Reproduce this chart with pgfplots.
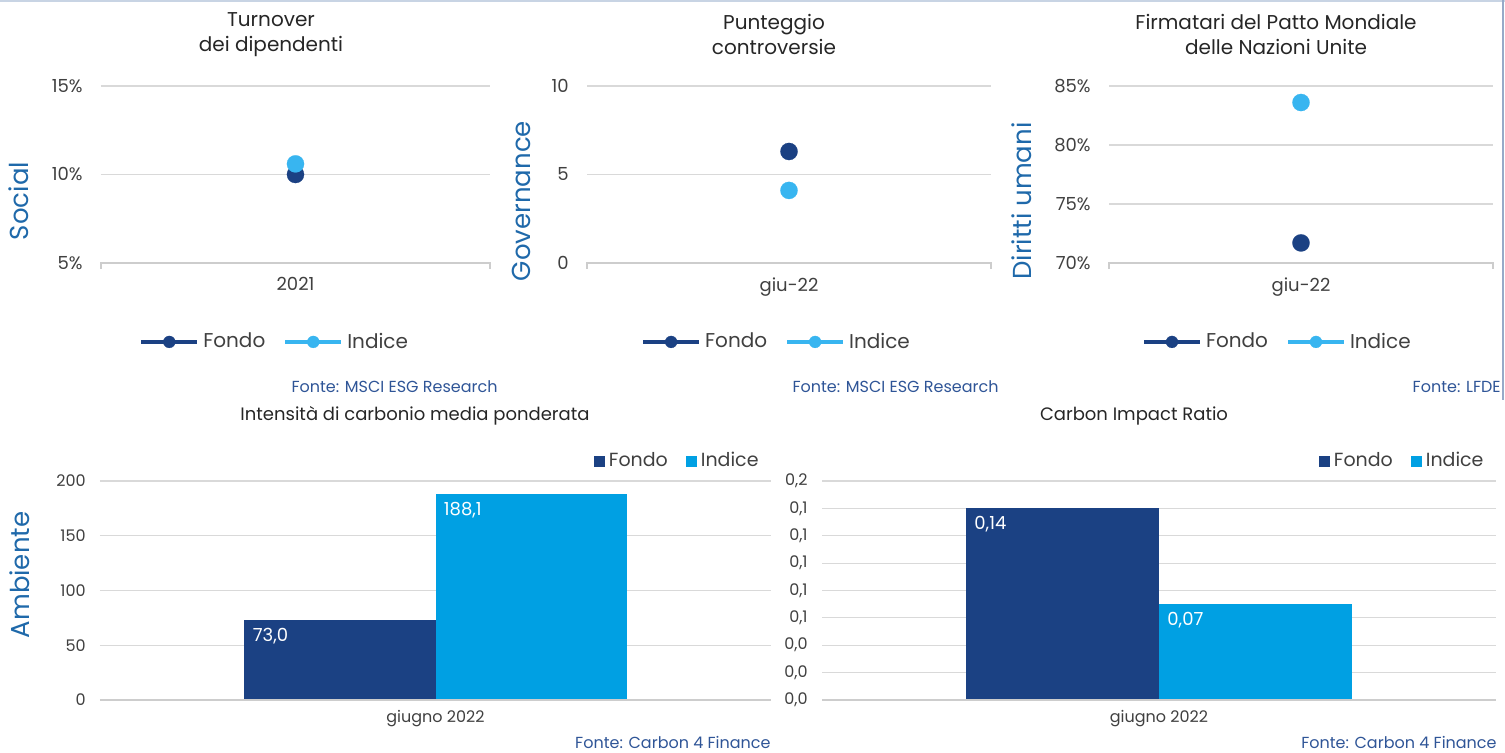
\documentclass[border=0pt]{standalone}
\usepackage{fontspec}
\setmainfont{Poppins}
\usepackage{pgfplots}
\pgfplotsset{compat=1.18}
\definecolor{fondo}{RGB}{27,65,131}
\definecolor{indicedot}{RGB}{56,181,240}
\definecolor{indicebar}{RGB}{0,160,227}
\definecolor{ylab}{RGB}{31,105,170}
\definecolor{src}{RGB}{47,85,151}
\definecolor{ticktxt}{RGB}{64,64,64}
\definecolor{gridc}{RGB}{217,217,217}
\definecolor{axisc}{RGB}{205,205,205}
\definecolor{framec}{RGB}{150,170,200}
\definecolor{toplinec}{RGB}{200,212,228}

\pgfplotsset{
  common/.style={
    scale only axis, clip=false,
    xmin=0, xmax=2, xtick={1},
    axis line style={draw=none},
    major tick length=0pt,
    ymajorgrids, grid style={gridc, line width=0.6pt},
    legend style={draw=none, fill=none, text=ticktxt, legend columns=2, inner sep=0pt,
      /tikz/every even column/.append style={column sep=7pt}},
  },
  topstyle/.style={
    common, height=88.5pt,
    tick label style={font=\fontsize{9}{10}\selectfont, text=ticktxt},
    yticklabel style={anchor=east, inner sep=0pt, xshift=-9pt},
    xticklabel style={anchor=north, inner sep=0pt, yshift=-7pt},
    legend style={font=\fontsize{10}{12}\selectfont, anchor=center},
    legend image code/.code={\draw[#1, line width=2pt, mark repeat=2, mark phase=2] plot coordinates {(0pt,0pt) (14pt,0pt) (28pt,0pt)};},
  },
  dot/.style={color=#1, only marks, mark=*, mark size=4.3pt, mark options={draw=#1, fill=#1, line width=0.1pt}},
  limg/.style={color=#1, mark=*, mark size=3pt, mark options={draw=#1, fill=#1, line width=0.1pt}},
  botstyle/.style={
    common, height=109.5pt, ymin=0, ybar,
    tick label style={font=\fontsize{8}{9}\selectfont, text=ticktxt},
    yticklabel style={anchor=east, inner sep=0pt, xshift=-7pt},
    xticklabel style={anchor=north, inner sep=0pt, yshift=-5pt},
    legend style={font=\fontsize{9.5}{11}\selectfont, anchor=east, at={(axis description cs:0.988,1.091)}},
    point meta=explicit symbolic,
    nodes near coords,
    every node near coord/.append style={font=\fontsize{9}{10}\selectfont, text=white, anchor=north west, inner sep=0pt},
  },
  sq/.style={legend image code/.code={\fill[#1] (0pt,-2.75pt) rectangle (5.5pt,2.75pt);}},
}

\begin{document}
\begin{tikzpicture}
\path[use as bounding box] (0,0) rectangle (752.5pt,376.5pt);
\draw[toplinec, line width=1pt] (0,376pt) -- (752.5pt,376pt);
\draw[framec, line width=1pt] (751.5pt,376.5pt) -- (751.5pt,176.5pt);

% ---------- Panel 1 ----------
\begin{axis}[topstyle, at={(50.5pt,245pt)}, anchor=south west, width=194.5pt,
  ymin=5, ymax=15, ytick={5,10,15}, yticklabels={5\%,10\%,15\%},
  xticklabels={2021},
  legend style={at={(axis description cs:0.449,-0.446)}}]
\addlegendimage{limg=fondo}\addlegendentry{Fondo}
\addlegendimage{limg=indicedot}\addlegendentry{Indice}
\addplot[dot=fondo] coordinates {(1,10.0)};
\addplot[dot=indicedot] coordinates {(1,10.6)};
\draw[axisc, line width=1pt] ([yshift=-3pt]rel axis cs:0,0) -- (rel axis cs:0,0) -- (rel axis cs:1,0) -- ([yshift=-3pt]rel axis cs:1,0);
\end{axis}

% ---------- Panel 2 ----------
\begin{axis}[topstyle, at={(293.5pt,245pt)}, anchor=south west, width=202pt,
  ymin=0, ymax=10, ytick={0,5,10}, yticklabels={0,5,10},
  xticklabels={giu-22},
  legend style={at={(axis description cs:0.4715,-0.446)}}]
\addlegendimage{limg=fondo}\addlegendentry{Fondo}
\addlegendimage{limg=indicedot}\addlegendentry{Indice}
\addplot[dot=fondo] coordinates {(1,6.3)};
\addplot[dot=indicedot] coordinates {(1,4.1)};
\draw[axisc, line width=1pt] ([yshift=-3pt]rel axis cs:0,0) -- (rel axis cs:0,0) -- (rel axis cs:1,0) -- ([yshift=-3pt]rel axis cs:1,0);
\end{axis}

% ---------- Panel 3 ----------
\begin{axis}[topstyle, at={(554.5pt,245pt)}, anchor=south west, width=192pt,
  ymin=70, ymax=85, ytick={70,75,80,85}, yticklabels={70\%,75\%,80\%,85\%},
  xticklabels={giu-22},
  legend style={at={(axis description cs:0.441,-0.446)}}]
\addlegendimage{limg=fondo}\addlegendentry{Fondo}
\addlegendimage{limg=indicedot}\addlegendentry{Indice}
\addplot[dot=fondo] coordinates {(1,71.7)};
\addplot[dot=indicedot] coordinates {(1,83.6)};
\draw[axisc, line width=1pt] ([yshift=-3pt]rel axis cs:0,0) -- (rel axis cs:0,0) -- (rel axis cs:1,0) -- ([yshift=-3pt]rel axis cs:1,0);
\end{axis}

% ---------- Bottom left ----------
\begin{axis}[botstyle, at={(50pt,26.5pt)}, anchor=south west, width=335.5pt,
  ymax=200, ytick={0,50,100,150,200}, yticklabels={0,50,100,150,200},
  xticklabels={giugno 2022}, bar width=95.5pt,
  every node near coord/.append style={xshift=-43.75pt, yshift=-4pt}]
\addplot[fill=fondo, draw=none, bar shift=-47.75pt, sq=fondo] coordinates {(1,73.0) [73,0]};
\addlegendentry{Fondo}
\addplot[fill=indicebar, draw=none, bar shift=47.75pt, sq=indicebar] coordinates {(1,188.1) [188,1]};
\addlegendentry{Indice}
\draw[axisc, line width=1pt] (rel axis cs:0,0) -- (rel axis cs:1,0);
\end{axis}

% ---------- Bottom right ----------
\begin{axis}[botstyle, at={(411pt,26.5pt)}, anchor=south west, width=337pt,
  ymax=0.16, ytick={0,0.02,0.04,0.06,0.08,0.10,0.12,0.14,0.16},
  yticklabels={{0,0},{0,0},{0,0},{0,1},{0,1},{0,1},{0,1},{0,1},{0,2}},
  xticklabels={giugno 2022}, bar width=96.5pt,
  every node near coord/.append style={xshift=-44.25pt, yshift=-4pt}]
\addplot[fill=fondo, draw=none, bar shift=-48.25pt, sq=fondo] coordinates {(1,0.14) [0,14]};
\addlegendentry{Fondo}
\addplot[fill=indicebar, draw=none, bar shift=48.25pt, sq=indicebar] coordinates {(1,0.07) [0,07]};
\addlegendentry{Indice}
\draw[axisc, line width=1pt] (rel axis cs:0,0) -- (rel axis cs:1,0);
\end{axis}

% ---------- Titles ----------
\begin{scope}[every node/.style={align=center, text=black!85, font=\fontsize{10}{12.5}\selectfont}]
\node at (135.5pt,359.25pt) {Turnover\\dei dipendenti};
\node at (387pt,359.25pt) {Punteggio\\controversie};
\node at (638pt,359.25pt) {Firmatari del Patto Mondiale\\delle Nazioni Unite};
\end{scope}
\node[text=black!85, font=\fontsize{9}{11}\selectfont] at (207.5pt,168.5pt) {Intensità di carbonio media ponderata};
\node[text=black!85, font=\fontsize{9}{11}\selectfont] at (567pt,168.5pt) {Carbon Impact Ratio};

% ---------- Y labels ----------
\begin{scope}[every node/.style={rotate=90, text=ylab, font=\fontsize{13}{15}\selectfont}]
\node at (9.5pt,276pt) {Social};
\node at (260.5pt,276pt) {Governance};
\node at (511pt,276pt) {Diritti umani};
\node at (10pt,89pt) {Ambiente};
\end{scope}

% ---------- Sources ----------
\begin{scope}[every node/.style={anchor=east, inner sep=0pt, text=src, font=\fontsize{8}{9}\selectfont}]
\node at (249pt,183pt) {Fonte: MSCI ESG Research};
\node at (499.5pt,183pt) {Fonte: MSCI ESG Research};
\node at (750.5pt,183pt) {Fonte: LFDE};
\node at (385.5pt,5.5pt) {Fonte: Carbon 4 Finance};
\node at (748.5pt,5.5pt) {Fonte: Carbon 4 Finance};
\end{scope}
\end{tikzpicture}
\end{document}
